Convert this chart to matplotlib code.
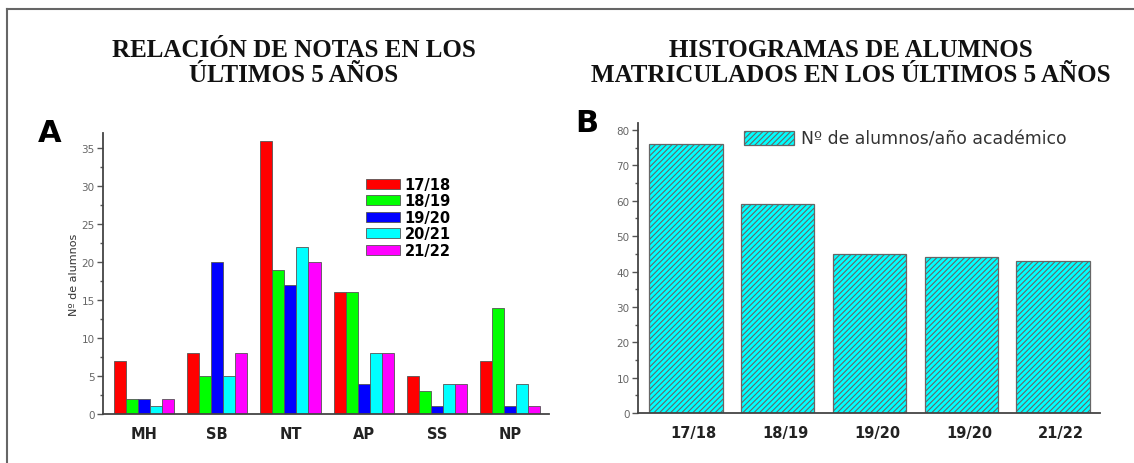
import matplotlib
matplotlib.use('Agg')
import matplotlib.pyplot as plt
import matplotlib.transforms as mtransforms
from matplotlib.lines import Line2D
from matplotlib.ticker import MultipleLocator
import numpy as np

# datos panel A: notas por curso
notas = ['MH', 'SB', 'NT', 'AP', 'SS', 'NP']
cursos = ['17/18', '18/19', '19/20', '20/21', '21/22']
n_17_18 = [7, 8, 36, 16, 5, 7]
n_18_19 = [2, 5, 19, 16, 3, 14]
n_19_20 = [2, 20, 17, 4, 1, 1]
n_20_21 = [1, 5, 22, 8, 4, 4]
n_21_22 = [2, 8, 20, 8, 4, 1]
colores = ['#ff0000', '#00ff00', '#0000ff', '#00ffff', '#ff00ff']

# datos panel B: alumnos matriculados
anios = ['17/18', '18/19', '19/20', '19/20', '21/22']
matriculados = [76, 59, 45, 44, 43]

plt.rcParams['font.family'] = ['DejaVu Sans']
plt.rcParams['hatch.linewidth'] = 0.8
plt.rcParams['hatch.color'] = '#2a6a6a'

W, H = 1134, 464
fig = plt.figure(figsize=(W / 100, H / 100), dpi=100)


def fbox(x0, y0, x1, y1):
    # pixel box (top-left origin) -> figure fraction rect
    return [x0 / W, 1 - y1 / H, (x1 - x0) / W, (y1 - y0) / H]


def estilo(ax, mayor, menor):
    for s in ['top', 'right']:
        ax.spines[s].set_visible(False)
    for s in ['left', 'bottom']:
        ax.spines[s].set_color('#444444')
        ax.spines[s].set_linewidth(1.3)
    ax.yaxis.set_major_locator(MultipleLocator(mayor))
    ax.yaxis.set_minor_locator(MultipleLocator(menor))
    ax.tick_params(axis='y', which='major', length=4, width=1, color='#555555',
                   labelsize=7.5, labelcolor='#666666', pad=2)
    ax.tick_params(axis='y', which='minor', length=2, width=1, color='#555555')
    ax.tick_params(axis='x', length=0)


# panel A
axA = fig.add_axes(fbox(103, 134, 549, 415))
serie = [n_17_18, n_18_19, n_19_20, n_20_21, n_21_22]
x = np.arange(len(notas))
w = 0.164
for i, (vals, c, lab) in enumerate(zip(serie, colores, cursos)):
    axA.bar(x + (i - 2) * w, vals, w, color=c, edgecolor='#555555',
            linewidth=0.6, label=lab)
axA.set_xlim(-0.56, 5.53)
axA.set_ylim(0, 37)
estilo(axA, 5, 2.5)
axA.set_xticks(x)
axA.set_xticklabels(notas, fontsize=10.5, fontweight='bold', color='#222222')
axA.tick_params(axis='x', pad=9)
axA.set_ylabel('Nº de alumnos', fontsize=8, color='#333333', labelpad=2)
axA.legend(loc='upper left', bbox_to_anchor=(366 / W, 1 - 178 / H),
           bbox_transform=fig.transFigure, frameon=False, borderpad=0,
           borderaxespad=0, handlelength=2.3, handleheight=0.7,
           handletextpad=0.35, labelspacing=0.1,
           prop={'size': 10.5, 'weight': 'bold'})

# panel B
axB = fig.add_axes(fbox(638, 124, 1100, 414))
xb = np.arange(len(anios))
axB.bar(xb, matriculados, 0.8, color='#00ffff', edgecolor='#666666',
        linewidth=0.9, hatch='//////', label='Nº de alumnos/año académico')
axB.set_xlim(-0.52, 4.51)
axB.set_ylim(0, 82)
estilo(axB, 10, 5)
axB.set_xticks(xb)
axB.set_xticklabels(anios, fontsize=10.5, fontweight='bold', color='#222222')
axB.tick_params(axis='x', pad=9)
desplaza = mtransforms.ScaledTranslation(0.08, 0, fig.dpi_scale_trans)
for t in axB.get_xticklabels():
    t.set_transform(t.get_transform() + desplaza)
lg = axB.legend(loc='upper left', bbox_to_anchor=(744 / W, 1 - 131 / H),
                bbox_transform=fig.transFigure, frameon=False, borderpad=0,
                borderaxespad=0, handlelength=2.9, handleheight=0.92,
                handletextpad=0.4, prop={'size': 12.4})
for t in lg.get_texts():
    t.set_color('#333333')

# titulos
tit = dict(ha='center', va='center', fontsize=18, fontweight='bold',
           family='Liberation Serif', color='#111111', linespacing=1.08)
fig.text(294 / W, 1 - 63 / H, 'RELACIÓN DE NOTAS EN LOS\nÚLTIMOS 5 AÑOS', **tit)
fig.text(851 / W, 1 - 63 / H,
         'HISTOGRAMAS DE ALUMNOS\nMATRICULADOS EN LOS ÚLTIMOS 5 AÑOS', **tit)

# letras de panel
fig.text(38 / W, 1 - 134 / H, 'A', fontsize=22, fontweight='bold', va='center')
fig.text(575 / W, 1 - 124 / H, 'B', fontsize=22, fontweight='bold', va='center')

# marco
fig.add_artist(Line2D([7 / W, 1], [1 - 10 / H, 1 - 10 / H],
                      transform=fig.transFigure, color='#666666', lw=1.5))
fig.add_artist(Line2D([7 / W, 7 / W], [0, 1 - 10 / H],
                      transform=fig.transFigure, color='#666666', lw=1.5))

fig.savefig('out.png', dpi=100)
